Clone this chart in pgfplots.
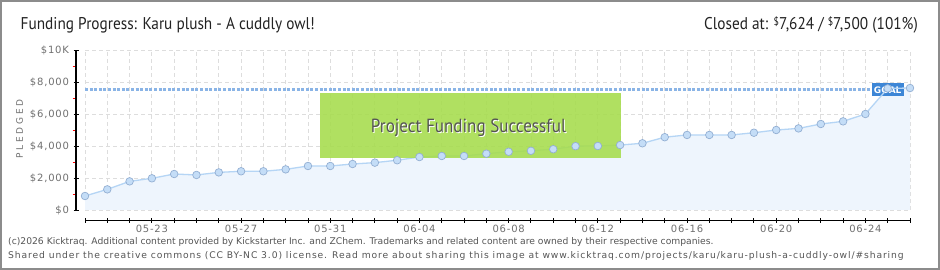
\documentclass[border=0pt]{standalone}
\usepackage{pgfplots}
\pgfplotsset{compat=1.18}
\usepackage{pgfplotstable}
\usepackage{fontspec}
\setmainfont{DejaVu Sans}
\newfontfamily\titlefont{PT Sans}[FakeStretch=0.9]
\newfontfamily\footfont{DejaVu Sans}
\newfontfamily\tickfont{DejaVu Sans}[LetterSpace=8]
\definecolor{gridc}{HTML}{DDDDDD}
\definecolor{linec}{HTML}{B5D5F5}
\definecolor{areac}{HTML}{EEF5FD}
\definecolor{markf}{HTML}{C4DDF7}
\definecolor{markd}{HTML}{93AFD3}
\definecolor{goalc}{HTML}{8AB4E6}
\definecolor{goalbox}{HTML}{3D86D6}
\definecolor{greenc}{HTML}{A6DC4C}
\definecolor{labc}{HTML}{707070}
\definecolor{framec}{HTML}{8C8C8C}
\definecolor{textc}{HTML}{222222}
\definecolor{footc}{HTML}{555555}

\pgfplotstableread{
x y
0 875
1 1290
2 1790
3 1980
4 2250
5 2190
6 2350
7 2420
8 2420
9 2540
10 2750
11 2750
12 2875
13 2960
14 3110
15 3310
16 3375
17 3375
18 3520
19 3640
20 3700
21 3800
22 3990
23 4000
24 4060
25 4170
26 4550
27 4690
28 4690
29 4690
30 4830
31 5000
32 5100
33 5375
34 5540
35 6000
36 7600
37 7624
}\pledged

\begin{document}
\begin{tikzpicture}[x=1pt,y=1pt]
\fill[white] (0,0) rectangle (940,270);
\begin{axis}[
  at={(85pt,60pt)}, anchor=south west,
  scale only axis, width=825pt, height=160pt,
  xmin=0, xmax=37, ymin=0, ymax=10000,
  clip=false,
  scaled y ticks=false,
  axis x line*=bottom, axis y line*=left,
  axis x line shift=10.5pt, axis y line shift=9pt,
  axis line style={line width=1.4pt, -},
  xtick={0,...,37},
  xticklabels={,,,05-23,,,,05-27,,,,05-31,,,,06-04,,,,06-08,,,,06-12,,,,06-16,,,,06-20,,,,06-24,,},
  ytick={0,2000,4000,6000,8000,10000},
  yticklabels={\$0,{\$2,000},{\$4,000},{\$6,000},{\$8,000},\$10K},
  minor ytick={1000,3000,5000,7000,9000},
  grid=major,
  major grid style={gridc, line width=0.8pt, dash pattern=on 4pt off 3pt},
  minor grid style={draw=none},
  tick align=center,
  major tick length=5pt,
  minor tick length=3pt,
  major tick style={black, line width=0.9pt},
  minor tick style={red, line width=0.9pt, xshift=-2pt},
  ticklabel style={font=\tickfont\fontsize{10}{10}\selectfont, text=labc},
  xticklabel style={yshift=1pt},
  yticklabel style={xshift=-1pt},
]
\addplot[draw=none, fill=areac] table {\pledged} \closedcycle;
\addplot[goalc, line width=3pt, dash pattern=on 3pt off 1.6pt] coordinates {(0,7500) (35.3,7500)};
\node[fill=goalbox, text=white, font=\bfseries\fontsize{9}{9}\selectfont, inner sep=0pt, minimum width=32pt, minimum height=13pt] at (axis cs:36,7500) {GOAL};
\addplot[linec, line width=1.3pt, mark=*, mark size=3.8pt, mark options={fill=markf, draw=markd, line width=0.7pt}] table {\pledged};
\fill[greenc, fill opacity=0.88] (axis cs:10.54,3230) rectangle (axis cs:24.02,7330);
\end{axis}
\node[anchor=base, text=white, font=\titlefont\fontsize{19}{19}\selectfont] at (469.5,136.7) {Project Funding Successful};
\node[anchor=base, text=footc, font=\titlefont\fontsize{19}{19}\selectfont] at (468.5,137.7) {Project Funding Successful};
\node[anchor=base west, inner sep=0pt, text=textc, font=\titlefont\fontsize{17}{17}\selectfont] at (20.5,240) {Funding Progress: Karu plush - A cuddly owl!};
\node[anchor=base east, inner sep=0pt, text=textc, font=\titlefont\fontsize{17}{17}\selectfont] at (918,240) {Closed at: {\fontsize{11}{11}\selectfont\raisebox{4pt}{\$}}7,624 / {\fontsize{11}{11}\selectfont\raisebox{4pt}{\$}}7,500 (101\%)};
\node[rotate=90, inner sep=0pt, text=labc, font=\fontsize{9}{9}\selectfont\addfontfeature{LetterSpace=30}] at (19.5,141) {PLEDGED};
\node[anchor=base west, inner sep=0pt, text=footc, font=\footfont\fontsize{9.2}{9.2}\selectfont] at (8,25) {(c)2026 Kicktraq. Additional content provided by Kickstarter Inc. and ZChem. Trademarks and related content are owned by their respective companies.};
\node[anchor=base west, inner sep=0pt, text=footc, font=\footfont\fontsize{9.2}{9.2}\selectfont\addfontfeature{LetterSpace=9.6}] at (8,11) {Shared under the creative commons (CC BY-NC 3.0) license. Read more about sharing this image at www.kicktraq.com/projects/karu/karu-plush-a-cuddly-owl/\#sharing};
\draw[framec, line width=2pt] (1,1) rectangle (939,269);
\pgfresetboundingbox
\useasboundingbox (0,0) rectangle (940,270);
\end{tikzpicture}
\end{document}
